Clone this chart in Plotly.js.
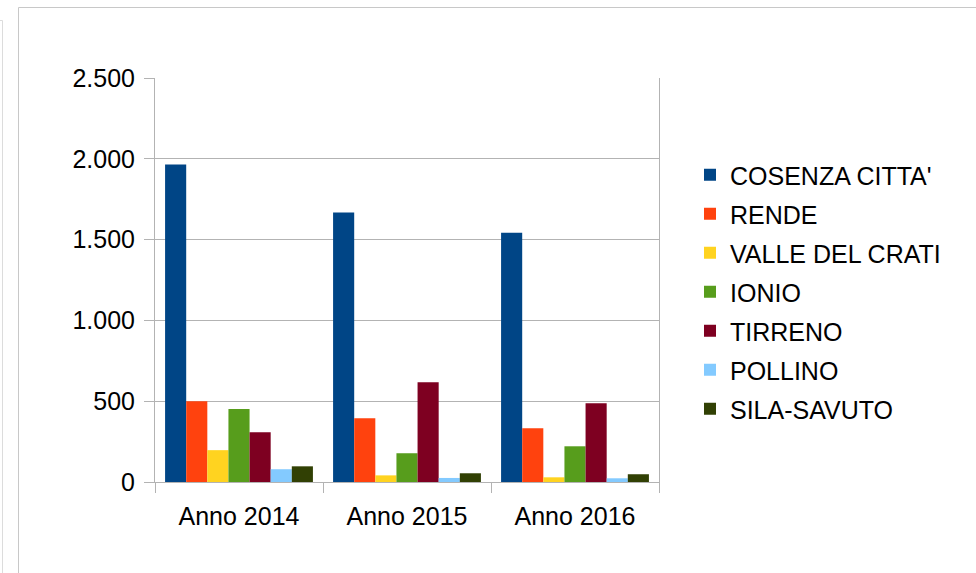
<!DOCTYPE html>
<html>
<head>
<meta charset="utf-8">
<script src="https://cdn.plot.ly/plotly-3.0.1.min.js"></script>
<style>
  html, body { margin: 0; padding: 0; background: #ffffff; }
  #chart { width: 976px; height: 573px; }
</style>
</head>
<body>
<div id="chart"></div>
<script>
const categories = ['Anno 2014', 'Anno 2015', 'Anno 2016'];
const seriesNames = ["COSENZA CITTA'", 'RENDE', 'VALLE DEL CRATI', 'IONIO', 'TIRRENO', 'POLLINO', 'SILA-SAVUTO'];
const cosenzaCitta = [1965, 1667, 1543];
const rende = [500, 395, 333];
const valleDelCrati = [197, 41, 29];
const ionio = [451, 178, 221];
const tirreno = [308, 618, 488];
const pollino = [79, 25, 23];
const silaSavuto = [97, 54, 48];
const seriesValues = [cosenzaCitta, rende, valleDelCrati, ionio, tirreno, pollino, silaSavuto];
const colors = ['#004586', '#ff420e', '#ffd320', '#579d1c', '#7e0021', '#83caff', '#314004'];

const font = 'Liberation Sans, Arial, sans-serif';

const traces = seriesNames.map((name, i) => ({
  type: 'bar',
  name: name,
  x: categories,
  y: seriesValues[i],
  marker: { color: colors[i], line: { width: 0 } },
  legendgroup: 'g' + i,
  hoverinfo: 'x+y+name'
}));

const L = 155, R = 659, T = 78, B = 482;
const px2x = p => (p - L) / (R - L);
const py2y = p => (B - p) / (B - T);

const layout = {
  width: 976,
  height: 573,
  margin: { l: L, r: 976 - R, t: T, b: 573 - B, pad: 0 },
  paper_bgcolor: '#ffffff',
  plot_bgcolor: '#ffffff',
  separators: ',.',
  font: { family: font, size: 25, color: '#000000' },
  barmode: 'group',
  bargap: 0.12,
  bargroupgap: 0,
  showlegend: true,
  legend: {
    x: px2x(690),
    xanchor: 'left',
    y: py2y(152),
    yanchor: 'top',
    font: { family: font, size: 25, color: '#000000' },
    tracegroupgap: 3.5,
    bgcolor: 'rgba(0,0,0,0)',
    borderwidth: 0
  },
  xaxis: {
    type: 'category',
    tickson: 'boundaries',
    ticks: 'outside',
    ticklen: 10,
    tickcolor: '#b3b3b3',
    tickwidth: 1,
    showline: true,
    linecolor: '#b3b3b3',
    linewidth: 1,
    showgrid: false,
    tickfont: { family: font, size: 25, color: '#000000' },
    ticklabelstandoff: 12,
    fixedrange: true
  },
  yaxis: {
    range: [0, 2500],
    dtick: 500,
    tick0: 0,
    separatethousands: true,
    ticks: 'outside',
    ticklen: 10,
    tickcolor: '#b3b3b3',
    tickwidth: 1,
    showline: true,
    mirror: true,
    linecolor: '#b3b3b3',
    linewidth: 1,
    showgrid: true,
    gridcolor: '#b3b3b3',
    gridwidth: 1,
    zeroline: false,
    tickfont: { family: font, size: 25, color: '#000000' },
    ticklabelstandoff: 4,
    fixedrange: true
  },
  shapes: [
    {
      type: 'path', xref: 'paper', yref: 'paper', layer: 'below',
      path: 'M ' + px2x(18.5) + ' ' + py2y(600) + ' L ' + px2x(18.5) + ' ' + py2y(7.5) + ' L ' + px2x(1000) + ' ' + py2y(7.5),
      line: { color: '#c8c8c8', width: 1 }
    },
    {
      type: 'path', xref: 'paper', yref: 'paper', layer: 'below',
      path: 'M ' + px2x(-5) + ' ' + py2y(20.5) + ' L ' + px2x(2.5) + ' ' + py2y(20.5) + ' L ' + px2x(2.5) + ' ' + py2y(600),
      line: { color: '#dcdcdc', width: 1 }
    }
  ]
};

Plotly.newPlot('chart', traces, layout, { staticPlot: true, displayModeBar: false });
</script>
</body>
</html>
